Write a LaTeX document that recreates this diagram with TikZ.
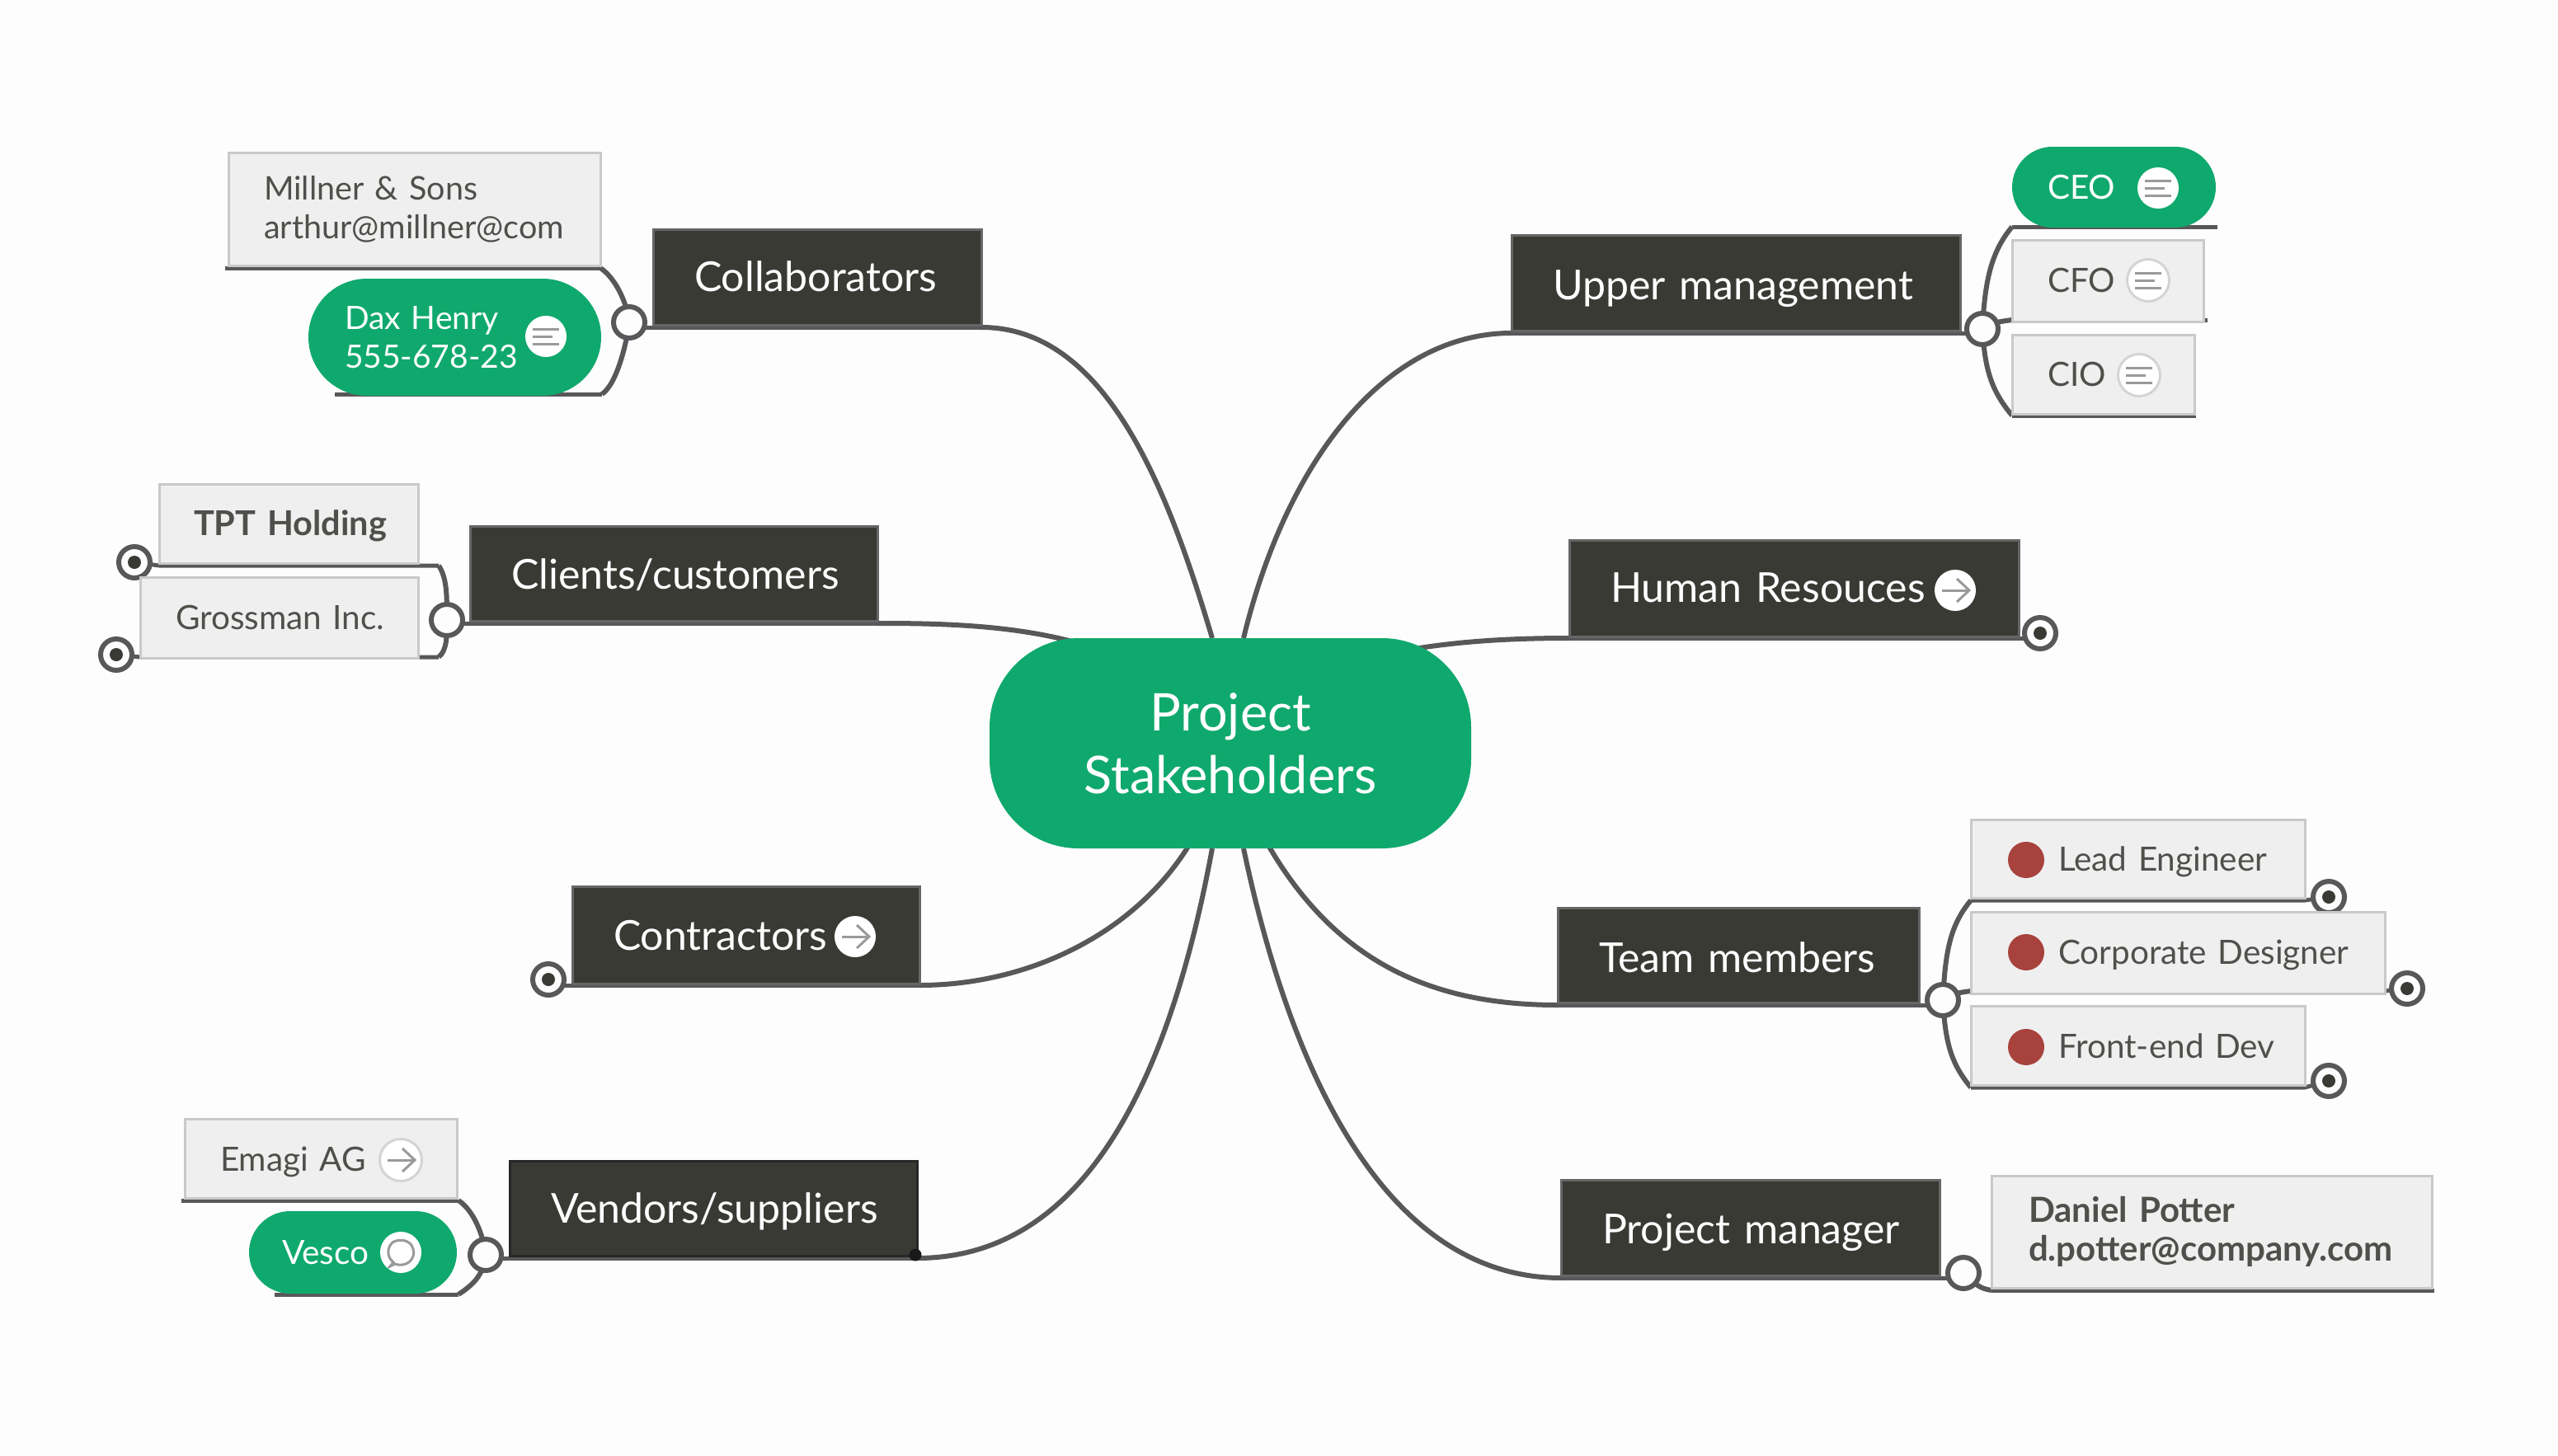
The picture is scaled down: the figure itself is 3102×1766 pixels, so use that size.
\documentclass[tikz,border=0pt]{standalone}
\usepackage{fontspec}
\setmainfont{Lato}
\newfontfamily\heavyfont{Lato Bold}
\usetikzlibrary{backgrounds}
\definecolor{paper}{HTML}{FDFDFE}
\definecolor{linkgray}{HTML}{58585A}
\definecolor{darkfill}{HTML}{3A3A35}
\definecolor{darkedge}{HTML}{666666}
\definecolor{lightfill}{HTML}{EFEFEF}
\definecolor{lightedge}{HTML}{C9C9C9}
\definecolor{hubgreen}{HTML}{10A96D}
\definecolor{flagred}{HTML}{A8423D}
\definecolor{inktext}{HTML}{4F4F4B}
\definecolor{icongray}{HTML}{9A9A9A}
\newcommand{\lead}{\hspace*{10pt}}
\tikzset{
  sized/.code n args={3}{%
    \pgfmathsetmacro\boxtextwidth{#1-2*#3}%
    \tikzset{anchor=north west,minimum width=#1pt,minimum height=#2pt,
      text width/.expanded=\boxtextwidth pt}},
  anybox/.style={rectangle,inner sep=0pt,outer sep=0pt,align=left},
  darkbox/.style={anybox,fill=darkfill,draw=darkedge,line width=3pt,text=white,
    font=\fontsize{50pt}{56pt}\selectfont,text height=38pt,text depth=8pt},
  vendorbox/.style={darkbox,draw=black!85},
  lightbox/.style={anybox,fill=lightfill,draw=lightedge,line width=3pt,text=inktext,
    font=\fontsize{40.5pt}{47pt}\selectfont},
  oneline/.style={text height=34pt,text depth=6pt},
  lower/.style={text height=36pt,text depth=6pt},
  heavy/.style={font=\heavyfont\fontsize{#1pt}{47pt}\selectfont},
  pill/.style={anybox,fill=hubgreen,text=white,rounded corners=#1,
    font=\fontsize{40.5pt}{47pt}\selectfont},
  hubnode/.style={rectangle,inner sep=0pt,outer sep=0pt,fill=hubgreen,text=white,
    rounded corners=108pt,align=center,minimum width=584pt,minimum height=255pt,
    font=\fontsize{63pt}{76pt}\selectfont},
  link/.style={draw=linkgray,line width=6pt},
  underline/.style={draw=linkgray,line width=5pt},
  junction/.style={circle,draw=linkgray,line width=6pt,fill=paper,inner sep=0pt,
    outer sep=0pt,minimum size=38pt},
  enddot/.style={junction,path picture={\fill[darkfill]
    (path picture bounding box.center) circle (8);}},
  iconbase/.style={circle,fill=white,inner sep=0pt,outer sep=0pt,minimum size=50pt},
  ringed/.style={draw=lightedge!80,line width=3pt,minimum size=51pt},
  noteicon/.style={iconbase,path picture={
    \begin{scope}[shift={(path picture bounding box.center)},icongray,line width=3pt]
      \draw (-16,-9) -- (16,-9); \draw (-16,0) -- (8,0); \draw (-16,9) -- (16,9);
    \end{scope}}},
  arrowicon/.style={iconbase,path picture={
    \begin{scope}[shift={(path picture bounding box.center)},icongray,line width=3pt]
      \draw (-16,0) -- (16,0); \draw (2,-14) -- (17,0) -- (2,14);
    \end{scope}}},
  bubbleicon/.style={iconbase,path picture={
    \begin{scope}[shift={(path picture bounding box.center)},icongray,line width=3pt]
      \draw (-9,12) .. controls (-17,6) and (-17,-6) .. (-10,-12)
        .. controls (-4,-16) and (6,-16) .. (12,-10)
        .. controls (17,-3) and (17,5) .. (11,11)
        .. controls (5,16) and (-2,16) .. (-7,14)
        -- (-13,17) -- cycle;
    \end{scope}}},
  flag/.style={circle,fill=flagred,inner sep=0pt,outer sep=0pt,minimum size=44pt},
  tipdot/.style={circle,fill=black!90,inner sep=0pt,outer sep=0pt,minimum size=15pt}
}
\begin{document}
\begin{tikzpicture}[x=1pt,y=-1pt]
\useasboundingbox (0,0) rectangle (3102,1766);

% central topic
\node[hubnode] (hub) at (1492,901.5) {Project\\Stakeholders};

% main branches
\node[darkbox,sized={398}{116}{50},text height=42pt] (collab) at (792,278) {Collaborators};
\node[darkbox,sized={494}{115}{50},text height=46pt] (clients) at (570,638) {Clients/customers};
\node[darkbox,sized={421}{118}{50},text height=44pt] (contract) at (694,1075) {Contractors};
\node[vendorbox,sized={494}{115}{50},text height=44pt] (vendors) at (618,1408) {Vendors/suppliers};
\node[darkbox,sized={544}{116}{50},text height=48pt] (upper) at (1833,285) {Upper management};
\node[darkbox,sized={545}{117}{50},text height=42pt] (hr) at (1903,655) {Human Resouces};
\node[darkbox,sized={438}{115}{50},text height=50pt] (team) at (1889,1101) {Team members};
\node[darkbox,sized={459}{116}{40},text height=46pt] (pm) at (1893,1431) {\lead Project manager};

% leaves of Collaborators
\node[lightbox,font=\fontsize{39.5pt}{47pt}\selectfont,sized={451}{137}{33}] (millner) at (277,185) {\lead Millner \& Sons\\\lead arthur@millner@com};
\node[pill=71pt,font=\fontsize{39pt}{47pt}\selectfont,sized={355}{142}{44}] (dax) at (374,338) {Dax Henry\\555-678-23};
\node[noteicon] (daxnote) at (662,408) {};
\node[junction] (collabjoin) at (763,391) {};

% leaves of Clients/customers
\node[enddot] (tptend) at (163,682) {};
\node[lightbox,heavy=41.5,oneline,sized={314}{96}{32}] (tpt) at (193,587) {\lead TPT Holding};
\node[enddot] (grossend) at (141,794) {};
\node[lightbox,oneline,sized={337}{98}{33}] (gross) at (170,700) {\lead Grossman Inc.};
\node[junction] (clientsjoin) at (542,752) {};

% Contractors details
\node[arrowicon] (contractgo) at (1037,1136) {};
\node[enddot] (contractend) at (665,1188) {};

% leaves of Vendors/suppliers
\node[lightbox,lower,sized={330}{96}{43}] (emagi) at (224,1357) {Emagi AG};
\node[arrowicon,ringed] (emagigo) at (486,1407) {};
\node[pill=50pt,oneline,sized={252}{100}{40}] (vesco) at (302,1469) {Vesco};
\node[bubbleicon] (vescotalk) at (486,1519) {};
\node[junction] (vendorsjoin) at (589,1522) {};
\node[tipdot] (vendorstip) at (1110,1522) {};

% leaves of Upper management
\node[pill=49pt,oneline,sized={247}{98}{43}] (ceo) at (2440,178) {CEO};
\node[noteicon] (ceonote) at (2617,228) {};
\node[lightbox,oneline,sized={232}{99}{43}] (cfo) at (2440,291) {CFO};
\node[noteicon,ringed] (cfonote) at (2605,340) {};
\node[lightbox,oneline,sized={221}{96}{43}] (cio) at (2440,406) {CIO};
\node[noteicon,ringed] (cionote) at (2594,455) {};
\node[junction] (upperjoin) at (2404,399) {};

% Human Resources details
\node[arrowicon] (hrgo) at (2371,716) {};
\node[enddot] (hrend) at (2474,768) {};

% leaves of Team members
\node[enddot] (leadend) at (2824,1088) {};
\node[lightbox,lower,sized={405}{95}{4}] (lead) at (2390,994) {\hspace*{102pt}Lead Engineer};
\node[flag] (leadflag) at (2457,1043) {};
\node[lightbox,oneline,sized={502}{99}{4}] (corp) at (2390,1106) {\hspace*{102pt}Corporate Designer};
\node[flag] (corpflag) at (2457,1155) {};
\node[enddot] (corpend) at (2919,1199) {};
\node[lightbox,lower,sized={405}{96}{4}] (front) at (2390,1220) {\hspace*{102pt}Front-end Dev};
\node[flag] (frontflag) at (2457,1270) {};
\node[enddot] (frontend) at (2824,1311) {};
\node[junction] (teamjoin) at (2356,1213) {};

% leaf of Project manager
\node[lightbox,heavy=42,sized={534}{136}{35}] (potter) at (2415,1426) {\lead Daniel Potter\\\lead d.potter@company.com};
\node[junction] (pmjoin) at (2381,1544) {};

\begin{scope}[on background layer]
  \fill[paper] (0,0) rectangle (3102,1766);

  % curves from the central topic to each branch
  \draw[link] ([yshift=-3pt]collab.south east) .. controls +(150,0) and +(-55,-185) .. ([xshift=-22pt]hub.north);
  \draw[link] ([yshift=-3pt]clients.south east) .. controls +(66,0) and +(-80,-21) .. ([xshift=-192pt,yshift=-4pt]hub.north);
  \draw[link] ([yshift=-2pt]contract.south east) .. controls +(135,0) and +(-65,110) .. ([xshift=-47pt,yshift=9pt]hub.south);
  \draw[link] ([yshift=-3pt]vendors.south east) .. controls +(208,0) and +(-50,271) .. ([xshift=-22pt]hub.south);
  \draw[link] ([yshift=-3pt]upper.south west) .. controls +(-153,0) and +(52,-215) .. ([xshift=16pt]hub.north);
  \draw[link] ([yshift=-2pt]hr.south west) .. controls +(-73,0) and +(55,-9) .. ([xshift=223pt,yshift=-13pt]hub.north);
  \draw[link] ([yshift=-3pt]team.south west) .. controls +(-149,0) and +(85,150) .. ([xshift=43pt,yshift=9pt]hub.south);
  \draw[link] ([yshift=-3pt]pm.south west) .. controls +(-213,0) and +(57,271) .. ([xshift=16pt]hub.south);

  % underlines of the branch boxes, joined to their end circles
  \draw[underline] ([yshift=-3pt]collab.south east) -- ([yshift=-3pt]collab.south west -| collabjoin);
  \draw[underline] ([yshift=-3pt]clients.south east) -- ([yshift=-3pt]clients.south west -| clientsjoin);
  \draw[underline] ([yshift=-2pt]contract.south east) -- ([yshift=-2pt]contract.south west -| contractend);
  \draw[underline] ([yshift=-3pt]vendors.south east) -- ([yshift=-3pt]vendors.south west -| vendorsjoin);
  \draw[underline] ([yshift=-3pt]upper.south west) -- ([yshift=-3pt]upper.south east -| upperjoin);
  \draw[underline] ([yshift=-2pt]hr.south west) -- ([yshift=-2pt]hr.south east -| hrend);
  \draw[underline] ([yshift=-3pt]team.south west) -- ([yshift=-3pt]team.south east -| teamjoin);
  \draw[underline] ([yshift=-3pt]pm.south west) -- ([yshift=-3pt]pm.south east -| pmjoin);

  % Collaborators tree
  \draw[link] (collabjoin.center) .. controls +(-3,-25) and +(18,12) .. ([yshift=-3pt]millner.south east);
  \draw[link] (collabjoin.center) .. controls +(-3,25) and +(18,-12) .. ([xshift=1pt,yshift=2pt]dax.south east);
  \draw[underline] ([xshift=-4pt,yshift=-3pt]millner.south west) -- ([yshift=-3pt]millner.south east);
  \draw[underline] ([xshift=32pt,yshift=2pt]dax.south west) -- ([xshift=1pt,yshift=2pt]dax.south east);

  % Clients/customers tree
  \draw[link] (clientsjoin.center) .. controls +(0,-30) and +(10,15) .. ([xshift=25pt,yshift=-3pt]tpt.south east);
  \draw[link] (clientsjoin.center) .. controls +(0,20) and +(10,-8) .. ([xshift=25pt,yshift=1pt]gross.south east);
  \draw[underline] (tptend.center) -- ([yshift=-3pt]tpt.south west) -- ([xshift=25pt,yshift=-3pt]tpt.south east);
  \draw[underline] ([xshift=25pt,yshift=1pt]gross.south east) -- ([yshift=1pt]gross.south west) -- (grossend.center);

  % Vendors/suppliers tree
  \draw[link] (vendorsjoin.center) .. controls +(-3,-25) and +(18,12) .. ([xshift=2pt,yshift=-3pt]emagi.south east);
  \draw[link] (vendorsjoin.center) .. controls +(-3,25) and +(18,-12) .. ([xshift=2pt,yshift=-1pt]vesco.south east);
  \draw[underline] ([xshift=-4pt,yshift=-3pt]emagi.south west) -- ([xshift=2pt,yshift=-3pt]emagi.south east);
  \draw[underline] ([xshift=31pt,yshift=-1pt]vesco.south west) -- ([xshift=2pt,yshift=-1pt]vesco.south east);

  % Upper management tree
  \draw[link] (upperjoin.center) .. controls +(3,-60) and +(-25,30) .. ([yshift=1pt]ceo.south west);
  \draw[link] (upperjoin.center) .. controls +(3,50) and +(-25,-30) .. ([yshift=-2pt]cio.south west);
  \draw[link] (upperjoin.center) .. controls +(12,-8) and +(-15,2) .. ([yshift=2pt]cfo.south west);
  \draw[underline] ([yshift=1pt]ceo.south west) -- ([xshift=2pt,yshift=1pt]ceo.south east);
  \draw[underline] ([yshift=2pt]cfo.south west) -- ([xshift=5pt,yshift=2pt]cfo.south east);
  \draw[underline] ([yshift=-2pt]cio.south west) -- ([xshift=2pt,yshift=-2pt]cio.south east);

  % Team members tree
  \draw[link] (teamjoin.center) .. controls +(3,-60) and +(-25,30) .. ([yshift=-3pt]lead.south west);
  \draw[link] (teamjoin.center) .. controls +(3,50) and +(-25,-30) .. ([yshift=-3pt]front.south west);
  \draw[link] (teamjoin.center) .. controls +(12,-8) and +(-15,2) .. ([yshift=3pt]corp.south west);
  \draw[underline] ([yshift=-3pt]lead.south west) -- ([yshift=-3pt]lead.south east) -- (leadend.center);
  \draw[underline] ([yshift=3pt]corp.south east) -- (corpend.center);
  \draw[underline] ([yshift=-3pt]front.south west) -- ([yshift=-3pt]front.south east) -- (frontend.center);

  % Project manager leaf
  \draw[link] (pmjoin.center) .. controls +(12,12) and +(-15,-2) .. ([yshift=-3pt]potter.south west);
  \draw[underline] ([yshift=-3pt]potter.south west) -- ([xshift=3pt,yshift=-3pt]potter.south east);
\end{scope}
\end{tikzpicture}
\end{document}
